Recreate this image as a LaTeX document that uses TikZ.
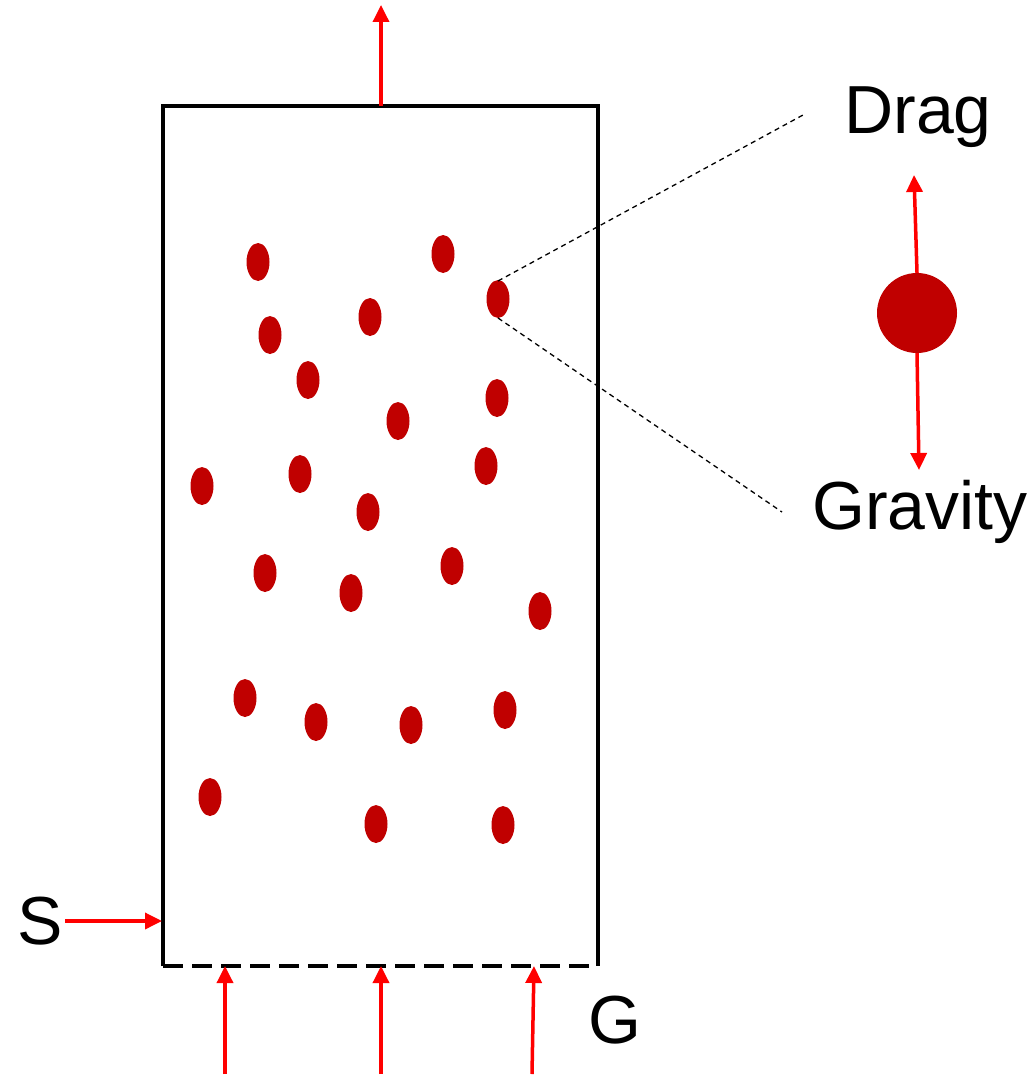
\documentclass[tikz,border=0pt]{standalone}
\usepackage{fontspec}
\setmainfont{Liberation Sans}
\usetikzlibrary{arrows.meta,calc,shapes.geometric}
\definecolor{flow}{RGB}{255,0,0}
\definecolor{particle}{RGB}{192,0,0}
\tikzset{pin/.style={flow, line width=3.5pt, -{Triangle[length=17pt, width=16pt]}},
  wall/.style={line width=4pt},
  grain/.style={ellipse, fill=particle, inner sep=0pt, minimum width=23pt, minimum height=38pt},
  lbl/.style={font=\fontsize{68}{80}\selectfont, inner sep=0pt}}

\begin{document}
\begin{tikzpicture}[x=1pt, y=-1pt]
  \useasboundingbox (0,0) rectangle (1035,1078);
  % column walls
  \coordinate (tl) at (163,106);
  \coordinate (tr) at (598,106);
  \coordinate (bl) at (163,966);
  \coordinate (br) at (598,966);
  \draw[wall] (bl) -- (tl) -- (tr) -- (br);
  \draw[wall, dash pattern=on 20pt off 9pt] (bl) -- (br);
  % particles in the bed
  \foreach \x/\y [count=\i] in {258/262, 443/254, 498/299, 270/335, 370/317, 308/380,
      497/398, 398/421, 202/486, 300/474, 486/466, 368/512, 265/573, 351/593,
      452/566, 540/611, 245/698, 316/722, 411/725, 505/710, 210/797, 376/824, 503/825}
    \node[grain] (p\i) at (\x,\y) {};
  % outlet at the top
  \coordinate (outlet) at (381,106);
  \coordinate (outtip) at (381,5);
  \draw[pin] (outlet) -- (outtip);
  % gas inlets at the bottom
  \foreach \x/\t [count=\i] in {225/225, 381/381, 532/534} {
    \coordinate (gin\i) at (\x,1074);
    \coordinate (gout\i) at (\t,966);
    \draw[pin] (gin\i) -- (gout\i);
  }
  % solids feed
  \node[lbl] (s) at (40,921) {S};
  \coordinate (sfeed) at (65,921);
  \coordinate (sin) at (162,921);
  \draw[pin] (sfeed) -- (sin);
  \node[lbl] (g) at (615,1020) {G};
  % zoomed particle with forces
  \node[circle, fill=particle, inner sep=0pt, minimum size=80pt] (ball) at (917,313) {};
  \node[lbl] (drag) at (918,117) {Drag};
  \node[lbl] (grav) at (920,512) {Gravity};
  \coordinate (dtip) at (914,175);
  \coordinate (gtip) at (919,470);
  \draw[pin] (ball.north) -- (dtip);
  \draw[pin] (ball.south) -- (gtip);
  % zoom lines
  \coordinate (z1) at (803,115);
  \coordinate (z2) at (782,512);
  \draw[line width=1.3pt, dash pattern=on 5pt off 4pt] ($(p3.center)+(0,-18)$) -- (z1);
  \draw[line width=1.3pt, dash pattern=on 5pt off 4pt] ($(p3.center)+(0,19)$) -- (z2);
\end{tikzpicture}
\end{document}
